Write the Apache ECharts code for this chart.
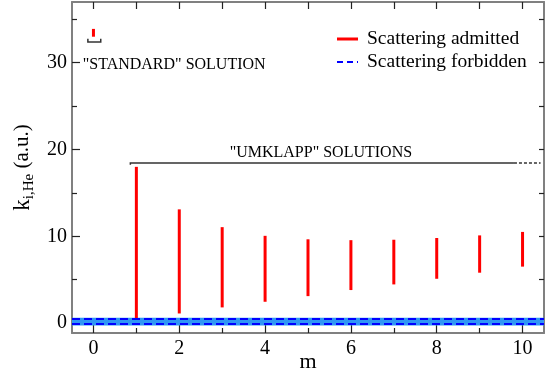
<!DOCTYPE html>
<html>
<head>
<meta charset="utf-8">
<script src="https://cdn.jsdelivr.net/npm/echarts@6/dist/echarts.min.js"></script>
<style>html,body{margin:0;padding:0;background:#fff}#c{width:551px;height:376px}</style>
</head>
<body>
<div id="c"></div>
<script>
// ---- data ----
const mValues = [1, 2, 3, 4, 5, 6, 7, 8, 9, 10];
const kLow  = [0.45, 1.1, 1.8, 2.45, 3.1, 3.8, 4.45, 5.1, 5.8, 6.5];
const kHigh = [18.0, 13.1, 11.05, 10.05, 9.65, 9.55, 9.6, 9.8, 10.1, 10.5];
const standardM = [0];
const standardLow = [33.0];
const standardHigh = [33.9];
const forbiddenLines = [-0.1, 0.45];
const forbiddenBand = [-0.28, 0.6];
const xTickLabels = [0, 2, 4, 6, 8, 10];
const xMinorTicks = [1, 3, 5, 7, 9];
const xTopTicks = [0, 1, 2, 3, 4, 5, 6, 7, 8, 9, 10];
const yTickLabels = [0, 10, 20, 30];
const yMinorTicks = [5, 15, 25, 35];
const yRightTicks = [0, 5, 10, 15, 20, 25, 30, 35];
const standardBracket = [[-0.13, 32.75], [-0.13, 32.4], [0.17, 32.4], [0.17, 32.75]];
const umklappSolid = [[0.86, 18.25], [0.86, 18.45], [9.8, 18.45]];
const umklappDashed = [[9.8, 18.45], [10.42, 18.45]];
const annotations = [
  {text: '"STANDARD" SOLUTION', x: -0.25, y: 29.8, align: 'left'},
  {text: '"UMKLAPP" SOLUTIONS', x: 5.3, y: 19.6, align: 'center'}
];

const FONT = '"Liberation Serif", "Times New Roman", serif';
const X_MIN = -0.5, X_MAX = 10.5, Y_MIN = -1.15, Y_MAX = 37.0;

const segData = mValues.map((m, i) => [m, kLow[i], kHigh[i]])
  .concat(standardM.map((m, i) => [m, standardLow[i], standardHigh[i]]));

const chart = echarts.init(document.getElementById('c'), null, {renderer: 'canvas'});

function xAx(pos, showLine, ticks, len, labels) {
  return {
    type: 'value', position: pos, min: X_MIN, max: X_MAX,
    splitLine: {show: false},
    axisLine: {show: showLine, onZero: false, lineStyle: {color: '#808080', width: 2}},
    axisTick: {show: true, inside: true, length: len, customValues: ticks, lineStyle: {color: '#222', width: 1.2}},
    axisLabel: labels ? {show: true, customValues: labels, fontFamily: FONT, fontSize: 20, color: '#000', margin: 6} : {show: false}
  };
}
function yAx(pos, showLine, ticks, len, labels) {
  return {
    type: 'value', position: pos, min: Y_MIN, max: Y_MAX,
    splitLine: {show: false},
    axisLine: {show: showLine, onZero: false, lineStyle: {color: '#808080', width: 2}},
    axisTick: {show: true, inside: true, length: len, customValues: ticks, lineStyle: {color: '#222', width: 1.2}},
    axisLabel: labels ? {show: true, customValues: labels, fontFamily: FONT, fontSize: 20, color: '#000', margin: 5} : {show: false}
  };
}

const yMain = yAx('left', true, yTickLabels, 8, yTickLabels);
yMain.name = '{k|k}{s|i,He}{n| (a.u.)}';
yMain.nameLocation = 'middle';
yMain.nameRotate = 90;
yMain.nameGap = 27;
yMain.nameTextStyle = {
  fontFamily: FONT, fontSize: 21, color: '#000',
  rich: {
    k: {fontFamily: FONT, fontSize: 23, color: '#000'},
    s: {fontFamily: FONT, fontSize: 15, color: '#000', padding: [12, 0, 0, 0]},
    n: {fontFamily: FONT, fontSize: 21, color: '#000'}
  }
};
const xMain = xAx('bottom', true, xTickLabels, 9, xTickLabels);

function polylineSeries(points, dash) {
  return {
    type: 'custom', data: points, encode: {x: 0, y: 1},
    renderItem: function (params, api) {
      if (params.dataIndex !== 0) return null;
      const pts = points.map(p => api.coord(p));
      return {type: 'polyline', shape: {points: pts},
        style: {stroke: '#333', lineWidth: 1.5, fill: null, lineDash: dash || null}};
    }
  };
}

const option = {
  animation: false,
  backgroundColor: '#fff',
  grid: {left: 72, right: 7, top: 2, bottom: 43, containLabel: false, outerBoundsMode: 'none'},
  xAxis: [
    xMain,
    xAx('bottom', false, xMinorTicks, 5, null),
    xAx('top', true, xTopTicks, 7, null)
  ],
  yAxis: [
    yMain,
    yAx('left', false, yMinorTicks, 5, null),
    yAx('right', true, yRightTicks, 5, null)
  ],
  series: [
    {
      type: 'line', name: 'Scattering forbidden', data: [], xAxisIndex: 0, yAxisIndex: 0,
      markArea: {silent: true, itemStyle: {color: '#2f96f5', opacity: 1},
        data: [[{yAxis: forbiddenBand[0]}, {yAxis: forbiddenBand[1]}]]},
      markLine: {silent: true, symbol: ['none', 'none'], label: {show: false},
        lineStyle: {color: '#0000ff', width: 2, type: [8, 4]},
        data: forbiddenLines.map(v => ({yAxis: v}))}
    },
    {
      type: 'custom', name: 'Scattering admitted', xAxisIndex: 0, yAxisIndex: 0,
      data: segData, encode: {x: 0, y: [1, 2]},
      renderItem: function (params, api) {
        const p1 = api.coord([api.value(0), api.value(1)]);
        const p2 = api.coord([api.value(0), api.value(2)]);
        return {type: 'line', shape: {x1: p1[0], y1: p1[1], x2: p2[0], y2: p2[1]},
          style: {stroke: '#ff0000', lineWidth: 3}};
      }
    },
    polylineSeries(standardBracket),
    polylineSeries(umklappSolid),
    polylineSeries(umklappDashed, [3, 2]),
    {
      type: 'custom', data: annotations.map(a => [a.x, a.y]),
      renderItem: function (params, api) {
        const a = annotations[params.dataIndex];
        const p = api.coord([api.value(0), api.value(1)]);
        return {type: 'text', x: p[0], y: p[1],
          style: {text: a.text, font: '16px ' + FONT, fill: '#000', align: a.align, verticalAlign: 'middle'}};
      }
    }
  ],
  graphic: [
    {type: 'text', x: 308, y: 362, style: {text: 'm', font: '22px ' + FONT, fill: '#000', align: 'center', verticalAlign: 'middle'}},
    {type: 'line', shape: {x1: 337, y1: 39, x2: 358, y2: 39}, style: {stroke: '#ff0000', lineWidth: 3}},
    {type: 'text', x: 367, y: 39, style: {text: 'Scattering admitted', font: '19.5px ' + FONT, fill: '#000', verticalAlign: 'middle'}},
    {type: 'line', shape: {x1: 337, y1: 62, x2: 358, y2: 62}, style: {stroke: '#0000ff', lineWidth: 2, lineDash: [6, 4]}},
    {type: 'text', x: 367, y: 62, style: {text: 'Scattering forbidden', font: '19.5px ' + FONT, fill: '#000', verticalAlign: 'middle'}}
  ]
};
chart.setOption(option);
</script>
</body>
</html>
